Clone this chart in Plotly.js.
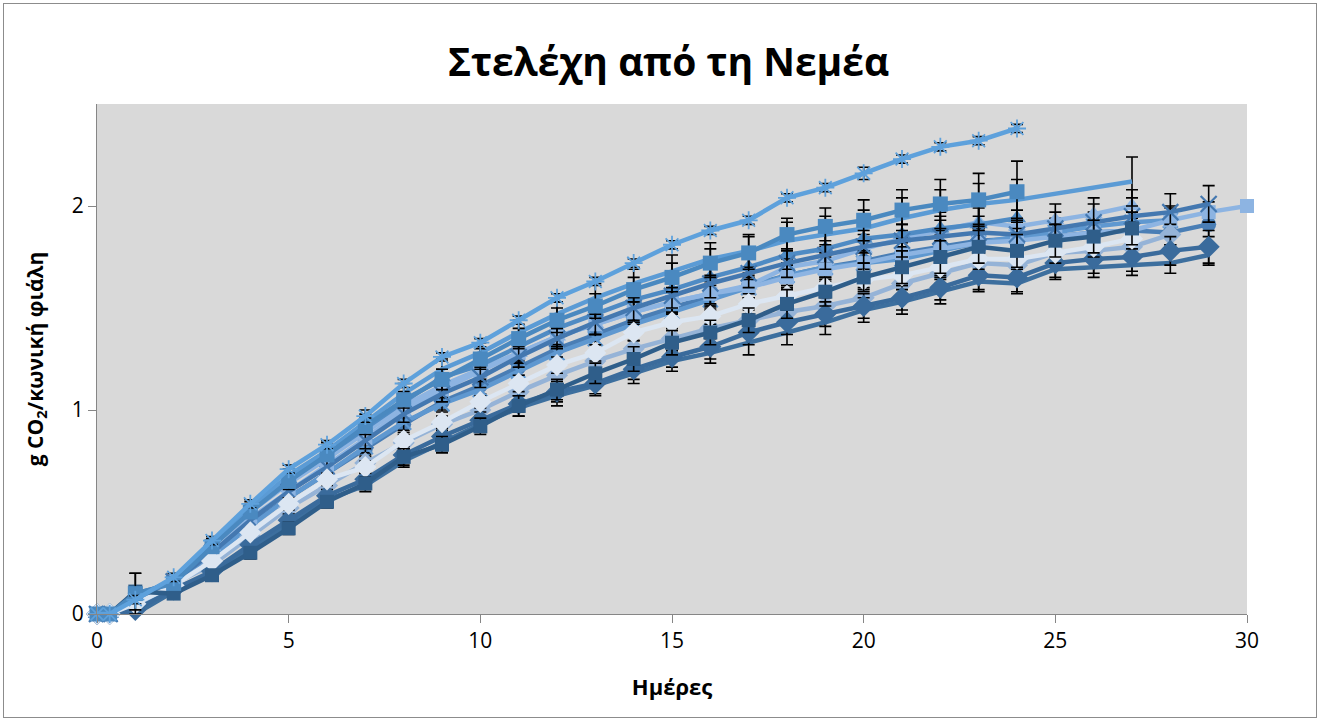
<!DOCTYPE html>
<html>
<head>
<meta charset="utf-8">
<script src="https://cdn.plot.ly/plotly-3.0.1.min.js"></script>
<style>
  html, body { margin: 0; padding: 0; background: #ffffff; }
  #wrap { position: relative; width: 1323px; height: 722px; }
  #chart { width: 1323px; height: 722px; }
  #frame { position: absolute; left: 3px; top: 3px; width: 1312px; height: 713px;
           border: 1px solid #8c8c8c; pointer-events: none; }
</style>
</head>
<body>
<div id="wrap"><div id="chart"></div><div id="frame"></div></div>
<script>
// ---- data ----
const days = [0, 0.33, 1, 2, 3, 4, 5, 6, 7, 8, 9, 10, 11, 12, 13, 14, 15, 16, 17, 18, 19, 20, 21, 22, 23, 24, 25, 26, 27, 28, 29, 30];
const xTicks = [0, 5, 10, 15, 20, 25, 30];
const yTicks = [0, 1, 2];

const starVals  = [0,0,0.07,0.18,0.36,0.54,0.71,0.83,0.97,1.13,1.26,1.33,1.44,1.55,1.63,1.72,1.81,1.88,1.93,2.04,2.09,2.16,2.23,2.29,2.32,2.38];
const starErr   = [0,0,0.02,0.02,0.02,0.02,0.02,0.02,0.03,0.02,0.02,0.02,0.02,0.02,0.02,0.02,0.02,0.02,0.02,0.02,0.02,0.03,0.02,0.02,0.02,0.02];

const sqVals    = [0,0,0.10,0.15,0.33,0.50,0.65,0.78,0.92,1.05,1.15,1.25,1.35,1.44,1.51,1.59,1.65,1.72,1.77,1.86,1.90,1.93,1.98,2.01,2.03,2.07];
const sqErr     = [0,0,0.10,0.02,0.03,0.03,0.04,0.03,0.04,0.04,0.05,0.05,0.05,0.06,0.06,0.06,0.07,0.07,0.08,0.08,0.09,0.10,0.10,0.12,0.13,0.15];

const lineAVals = [0,0,0.08,0.17,0.34,0.52,0.68,0.80,0.94,1.08,1.20,1.28,1.38,1.47,1.55,1.62,1.68,1.74,1.78,1.83,1.86,1.89,1.94,1.98,2.01,2.03,null,null,2.12];
const lineAErr  = [0,0,0.02,0.02,0.03,0.03,0.03,0.04,0.04,0.05,0.05,0.05,0.06,0.06,0.07,0.07,0.08,0.08,0.08,0.09,0.09,0.09,0.10,0.10,0.10,0.10,null,null,0.12];

const xVals     = [0,0,0.05,0.16,0.30,0.46,0.60,0.72,0.85,0.98,1.08,1.16,1.26,1.35,1.43,1.50,1.56,1.62,1.67,1.72,1.76,1.80,1.83,1.85,1.87,1.86,1.89,1.92,1.95,1.97,2.01];
const xErr      = [0,0,0.02,0.02,0.02,0.03,0.03,0.03,0.04,0.04,0.04,0.05,0.05,0.05,0.06,0.06,0.06,0.07,0.07,0.07,0.07,0.08,0.08,0.08,0.08,0.08,0.08,0.09,0.09,0.09,0.09];

const lsqVals   = [0,0,0.05,0.16,0.30,0.47,0.60,0.73,0.86,1.00,1.10,1.19,1.28,1.36,1.42,1.48,1.53,1.57,1.60,1.65,1.69,1.72,1.76,1.79,1.82,1.83,1.85,1.87,1.88,1.93,1.97,2.00];
const lsqErr    = [0,0,0.02,0.02,0.02,0.02,0.03,0.03,0.03,0.03,0.04,0.04,0.04,0.04,0.05,0.05,0.05,0.05,0.05,0.06,0.06,0.06,0.06,0.06,0.06,0.06,0.06,0.06,0.06,0.06,0.05,0.01];

const circVals  = [0,0,0.10,0.15,0.28,0.44,0.57,0.69,0.81,0.93,1.04,1.12,1.21,1.30,1.37,1.44,1.50,1.56,1.61,1.66,1.70,1.73,1.77,1.80,1.83,1.84,1.85,1.87,1.88,1.87,1.91];
const circErr   = [0,0,0.02,0.02,0.02,0.03,0.03,0.03,0.03,0.04,0.04,0.04,0.04,0.05,0.05,0.05,0.05,0.05,0.06,0.06,0.06,0.06,0.06,0.06,0.06,0.06,0.06,0.06,0.06,0.06,0.06];

const dsqVals   = [0,0,0.11,0.10,0.19,0.30,0.42,0.55,0.64,0.77,0.83,0.92,1.02,1.10,1.18,1.25,1.33,1.38,1.44,1.52,1.58,1.65,1.70,1.75,1.80,1.78,1.83,1.85,1.89];
const dsqErr    = [0,0,0.09,0.02,0.02,0.03,0.03,0.03,0.03,0.04,0.04,0.04,0.05,0.05,0.05,0.06,0.06,0.06,0.06,0.07,0.07,0.07,0.08,0.08,0.08,0.08,0.08,0.08,0.08];

const wdVals    = [0,0,0.05,0.14,0.26,0.40,0.54,0.66,0.72,0.85,0.94,1.04,1.13,1.22,1.28,1.38,1.43,1.46,1.52,1.56,1.60,1.64,1.66,1.70,1.74,1.74,1.77,1.80,1.84];
const wdErr     = [0,0,0.02,0.02,0.02,0.02,0.03,0.03,0.03,0.03,0.03,0.03,0.04,0.04,0.04,0.04,0.04,0.04,0.05,0.05,0.05,0.05,0.05,0.05,0.05,0.05,0.05,0.05,0.05];

const ldVals    = [0,0,0.03,0.15,0.24,0.38,0.52,0.63,0.74,0.84,0.93,1.00,1.09,1.17,1.24,1.30,1.35,1.40,1.44,1.48,1.51,1.55,1.62,1.67,1.72,1.71,1.77,1.78,1.80,1.86];
const ldErr     = [0,0,0.02,0.02,0.02,0.02,0.03,0.03,0.03,0.03,0.03,0.04,0.04,0.04,0.04,0.04,0.05,0.05,0.05,0.05,0.05,0.05,0.05,0.05,0.05,0.05,0.05,0.05,0.05,0.05];

const ddVals    = [0,0,0.02,0.12,0.21,0.34,0.46,0.58,0.66,0.78,0.87,0.95,1.03,1.09,1.13,1.20,1.26,1.31,1.38,1.43,1.47,1.51,1.55,1.60,1.66,1.65,1.72,1.74,1.75,1.78,1.80];
const ddErr     = [0,0,0.02,0.02,0.02,0.02,0.03,0.03,0.03,0.03,0.04,0.04,0.04,0.05,0.05,0.05,0.05,0.06,0.06,0.06,0.06,0.06,0.06,0.06,0.07,0.07,0.07,0.07,0.07,0.07,0.08];

const blVals    = [0,0,0.00,0.11,0.20,0.32,0.44,0.56,0.63,0.75,0.84,0.93,1.01,1.07,1.12,1.18,1.24,1.28,1.33,1.38,1.43,1.49,1.53,1.58,1.63,1.62,1.69,1.70,1.71,1.72,1.76];
const blErr     = [0,0,0.01,0.02,0.02,0.02,0.03,0.03,0.03,0.03,0.04,0.04,0.04,0.05,0.05,0.05,0.05,0.05,0.06,0.06,0.06,0.06,0.06,0.06,0.05,0.05,0.05,0.05,0.05,0.05,0.05];

const ltVals    = [0,0,0.06,0.16,0.33,0.50,0.64,0.76,0.89,1.02,1.12,1.20,1.28,1.36,1.42,1.48,1.53,1.57,1.61,1.70,1.73,1.79,1.84,1.88,1.92,1.90,1.93,1.96,2.00];
const ltErr     = [0,0,0.02,0.02,0.02,0.03,0.03,0.03,0.03,0.04,0.04,0.04,0.05,0.05,0.05,0.05,0.06,0.06,0.06,0.06,0.07,0.07,0.07,0.07,0.08,0.08,0.08,0.08,0.08];

const mtVals    = [0,0,0.08,0.17,0.34,0.51,0.66,0.78,0.91,1.04,1.16,1.22,1.31,1.40,1.47,1.54,1.59,1.65,1.70,1.76,1.79,1.84,1.86,1.89,1.91,1.94];
const mtErr     = [0,0,0.02,0.02,0.02,0.03,0.03,0.03,0.03,0.04,0.04,0.04,0.05,0.05,0.05,0.05,0.06,0.06,0.06,0.07,0.07,0.07,0.08,0.08,0.08,0.09];

const lxVals    = [0,0,0.04,0.15,0.28,0.43,0.57,0.69,0.82,0.94,1.03,1.10,1.19,1.28,1.35,1.42,1.48,1.54,1.60,1.66,1.70,1.72,1.74,1.78,1.82,1.85,1.87,1.90,1.92,1.93];
const lxErr     = [0,0,0.02,0.02,0.02,0.03,0.03,0.03,0.03,0.04,0.04,0.04,0.04,0.05,0.05,0.05,0.05,0.05,0.06,0.06,0.06,0.06,0.06,0.07,0.07,0.07,0.07,0.07,0.07,0.07];

// ---- styles (drawn bottom -> top) ----
const series = [
  {v: circVals, e: circErr, color: '#4a7eb5', sym: 'circle', size: 15, mode: 'lines+markers'},
  {v: lxVals,   e: lxErr,   color: '#5f98d0', sym: 'x-thin-open', size: 15, mode: 'lines+markers', lw: 2.2},
  {v: ltVals,   e: ltErr,   color: '#8db4e2', sym: 'triangle-up', size: 16, mode: 'lines+markers'},
  {v: mtVals,   e: mtErr,   color: '#4f8bc4', sym: 'triangle-up', size: 16, mode: 'lines+markers'},
  {v: lineAVals,e: lineAErr,color: '#5b9bd5', sym: 'circle', size: 1, mode: 'lines'},
  {v: lsqVals,  e: lsqErr,  color: '#8db4e2', sym: 'square', size: 14, mode: 'lines+markers'},
  {v: xVals,    e: xErr,    color: '#4478b0', sym: 'x-thin-open', size: 16, mode: 'lines+markers', lw: 2.2},
  {v: ldVals,   e: ldErr,   color: '#95b3d7', sym: 'diamond', size: 17, mode: 'lines+markers'},
  {v: blVals,   e: blErr,   color: '#3d6f9e', sym: 'circle', size: 1, mode: 'lines'},
  {v: ddVals,   e: ddErr,   color: '#3a6b9c', sym: 'diamond', size: 17, mode: 'lines+markers'},
  {v: wdVals,   e: wdErr,   color: '#dce6f2', sym: 'diamond', size: 17, mode: 'lines+markers'},
  {v: dsqVals,  e: dsqErr,  color: '#2f5e8a', sym: 'square', size: 14, mode: 'lines+markers'},
  {v: sqVals,   e: sqErr,   color: '#4a89c0', sym: 'square', size: 15, mode: 'lines+markers'},
  {v: starVals, e: starErr, color: '#5ea1dc', sym: 'asterisk-open', size: 15, mode: 'lines+markers', lw: 1.8}
];

const traces = series.map(s => ({
  type: 'scatter',
  mode: s.mode,
  x: days.slice(0, s.v.length),
  y: s.v,
  connectgaps: true,
  cliponaxis: false,
  line: {color: s.color, width: 4.5},
  marker: {symbol: s.sym, size: s.size, color: s.color, line: {width: s.lw || 0, color: s.color}},
  error_y: {type: 'data', array: s.e, visible: true, symmetric: true, color: '#000000', thickness: 1.6, width: 6},
  showlegend: false,
  hoverinfo: 'x+y'
}));

const font = "'Open Sans', 'Noto Sans', 'DejaVu Sans', sans-serif";

const layout = {
  width: 1323, height: 722,
  margin: {l: 97, r: 76, t: 104, b: 108},
  paper_bgcolor: '#ffffff',
  plot_bgcolor: '#d9d9d9',
  showlegend: false,
  font: {family: font, color: '#000000', size: 21},
  title: {
    text: 'Στελέχη από τη Νεμέα',
    font: {family: font, size: 39, color: '#000000', weight: 'bold'},
    x: 0.497, xanchor: 'center', xref: 'paper',
    y: 0.914, yanchor: 'middle', yref: 'container'
  },
  xaxis: {
    range: [0, 30], tickvals: xTicks, ticktext: xTicks.map(String),
    showgrid: false, zeroline: false,
    showline: true, linecolor: '#868686', linewidth: 1,
    ticks: 'outside', ticklen: 8, tickcolor: '#868686', tickwidth: 1,
    tickfont: {family: font, size: 21},
    title: {text: 'Ημέρες', font: {family: font, size: 22, weight: 'bold'}, standoff: 26},
    automargin: false
  },
  yaxis: {
    range: [0, 2.5], tickvals: yTicks, ticktext: yTicks.map(String),
    showgrid: false, zeroline: false,
    showline: true, linecolor: '#868686', linewidth: 1,
    ticks: 'outside', ticklen: 8, tickcolor: '#868686', tickwidth: 1,
    tickfont: {family: font, size: 21},
    title: {text: 'g CO<sub>2</sub>/κωνική φιάλη', font: {family: font, size: 21, weight: 'bold'}, standoff: 22},
    automargin: false
  }
};

Plotly.newPlot('chart', traces, layout, {displayModeBar: false, staticPlot: true});
</script>
</body>
</html>
